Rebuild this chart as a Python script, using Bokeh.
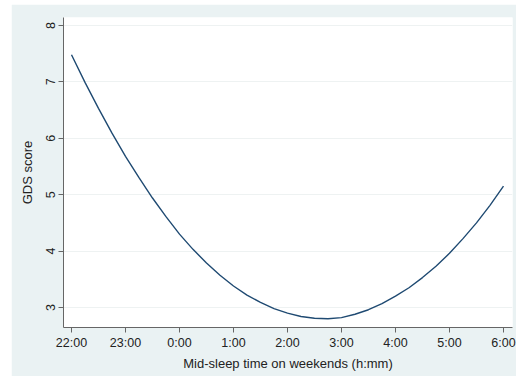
from bokeh.plotting import figure
from bokeh.models import FixedTicker, Range1d
from bokeh.embed import file_html
from bokeh.resources import INLINE

# Hours after 22:00 (mid-sleep time on weekends), read every quarter hour
hours = [0.0, 0.25, 0.5, 0.75, 1.0, 1.25, 1.5, 1.75, 2.0, 2.25, 2.5, 2.75,
         3.0, 3.25, 3.5, 3.75, 4.0, 4.25, 4.5, 4.75, 5.0, 5.25, 5.5, 5.75,
         6.0, 6.25, 6.5, 6.75, 7.0, 7.25, 7.5, 7.75, 8.0]
# Predicted GDS score
gds = [7.48, 6.99, 6.53, 6.09, 5.68, 5.30, 4.94, 4.61, 4.30, 4.03, 3.79, 3.57,
       3.38, 3.22, 3.09, 2.98, 2.90, 2.84, 2.81, 2.80, 2.82, 2.88, 2.96, 3.07,
       3.20, 3.35, 3.53, 3.73, 3.96, 4.22, 4.50, 4.81, 5.15]

x_ticks = [0, 1, 2, 3, 4, 5, 6, 7, 8]
x_tick_labels = ["22:00", "23:00", "0:00", "1:00", "2:00", "3:00", "4:00", "5:00", "6:00"]
y_ticks = [3, 4, 5, 6, 7, 8]

FONT = "Liberation Sans"
BG = "#EAF2F3"

p = figure(width=505, height=372, output_backend="svg", toolbar_location=None,
           x_range=Range1d(-0.148, 8.167), y_range=Range1d(2.645, 8.14),
           min_border_left=52, min_border_top=13, min_border_right=4, min_border_bottom=49,
           background_fill_color="white", border_fill_color=BG)
p.margin = (4, 0, 0, 11)
p.outline_line_color = None

p.line(hours, gds, line_color="#1F4A72", line_width=1.4)

# X axis
xa = p.xaxis[0]
xa.ticker = FixedTicker(ticks=x_ticks)
xa.major_label_overrides = {t: l for t, l in zip(x_ticks, x_tick_labels)}
xa.axis_label = "Mid-sleep time on weekends (h:mm)"

# Y axis
ya = p.yaxis[0]
ya.ticker = FixedTicker(ticks=y_ticks)
ya.axis_label = "GDS score"
ya.major_label_orientation = "vertical"

for ax in (xa, ya):
    ax.axis_line_color = "#666666"
    ax.axis_line_width = 1
    ax.major_tick_line_color = "#666666"
    ax.major_tick_in = 0
    ax.major_tick_out = 5
    ax.minor_tick_line_color = None
    ax.major_label_text_font = FONT
    ax.major_label_text_font_size = "12.5px"
    ax.major_label_text_color = "#222222"
    ax.major_label_standoff = 3
    ax.axis_label_text_font = FONT
    ax.axis_label_text_font_size = "13px"
    ax.axis_label_text_font_style = "normal"
    ax.axis_label_text_color = "#222222"

xa.axis_label_standoff = 3
ya.axis_label_standoff = 9

p.xgrid.grid_line_color = None
p.ygrid.ticker = FixedTicker(ticks=y_ticks)
p.ygrid.grid_line_color = "#EEF2F2"
p.ygrid.grid_line_width = 1

open("out.html", "w").write(file_html(p, INLINE))
